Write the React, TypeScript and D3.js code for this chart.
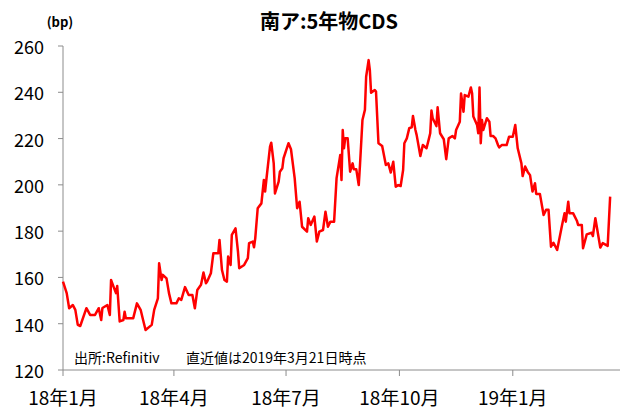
import * as d3 from 'd3'

const dates = [
  '2018-01-01', '2018-01-04', '2018-01-06', '2018-01-09', '2018-01-11', '2018-01-13', '2018-01-15', '2018-01-20',
  '2018-01-23', '2018-01-27', '2018-01-30', '2018-02-01', '2018-02-02', '2018-02-06', '2018-02-08', '2018-02-09',
  '2018-02-11', '2018-02-13', '2018-02-14', '2018-02-16', '2018-02-19', '2018-02-20', '2018-02-21', '2018-02-27',
  '2018-03-02', '2018-03-05', '2018-03-07', '2018-03-09', '2018-03-14', '2018-03-16', '2018-03-19', '2018-03-20',
  '2018-03-22', '2018-03-23', '2018-03-26', '2018-03-28', '2018-03-30', '2018-04-03', '2018-04-05', '2018-04-07',
  '2018-04-10', '2018-04-13', '2018-04-16', '2018-04-18', '2018-04-20', '2018-04-23', '2018-04-25', '2018-04-27',
  '2018-04-28', '2018-05-01', '2018-05-03', '2018-05-07', '2018-05-08', '2018-05-10', '2018-05-12', '2018-05-14',
  '2018-05-15', '2018-05-17', '2018-05-18', '2018-05-21', '2018-05-23', '2018-05-24', '2018-05-28', '2018-05-31',
  '2018-06-01', '2018-06-04', '2018-06-05', '2018-06-06', '2018-06-08', '2018-06-11', '2018-06-13', '2018-06-14',
  '2018-06-15', '2018-06-18', '2018-06-19', '2018-06-21', '2018-06-22', '2018-06-25', '2018-06-26', '2018-06-28',
  '2018-06-29', '2018-07-03', '2018-07-05', '2018-07-08', '2018-07-10', '2018-07-12', '2018-07-14', '2018-07-18',
  '2018-07-19', '2018-07-21', '2018-07-24', '2018-07-26', '2018-07-28', '2018-07-31', '2018-08-02', '2018-08-04',
  '2018-08-06', '2018-08-09', '2018-08-11', '2018-08-14', '2018-08-15', '2018-08-16', '2018-08-17', '2018-08-18',
  '2018-08-20', '2018-08-22', '2018-08-24', '2018-08-25', '2018-08-27', '2018-08-29', '2018-08-30', '2018-09-01',
  '2018-09-03', '2018-09-04', '2018-09-06', '2018-09-07', '2018-09-08', '2018-09-11', '2018-09-12', '2018-09-14',
  '2018-09-17', '2018-09-20', '2018-09-22', '2018-09-24', '2018-09-26', '2018-09-28', '2018-09-30', '2018-10-02',
  '2018-10-04', '2018-10-05', '2018-10-07', '2018-10-09', '2018-10-11', '2018-10-12', '2018-10-14', '2018-10-15',
  '2018-10-18', '2018-10-20', '2018-10-23', '2018-10-25', '2018-10-26', '2018-10-27', '2018-10-28', '2018-10-31',
  '2018-11-01', '2018-11-03', '2018-11-06', '2018-11-08', '2018-11-10', '2018-11-13', '2018-11-15', '2018-11-16',
  '2018-11-19', '2018-11-20', '2018-11-22', '2018-11-23', '2018-11-26', '2018-11-28', '2018-11-29', '2018-11-30',
  '2018-12-03', '2018-12-04', '2018-12-05', '2018-12-06', '2018-12-07', '2018-12-08', '2018-12-09', '2018-12-11',
  '2018-12-13', '2018-12-14', '2018-12-16', '2018-12-18', '2018-12-20', '2018-12-21', '2018-12-23', '2018-12-27',
  '2018-12-29', '2019-01-01', '2019-01-03', '2019-01-05', '2019-01-08', '2019-01-09', '2019-01-11', '2019-01-13',
  '2019-01-15', '2019-01-17', '2019-01-19', '2019-01-20', '2019-01-23', '2019-01-26', '2019-01-28', '2019-01-30',
  '2019-02-01', '2019-02-03', '2019-02-06', '2019-02-10', '2019-02-12', '2019-02-13', '2019-02-15', '2019-02-16',
  '2019-02-19', '2019-02-22', '2019-02-23', '2019-02-26', '2019-02-27', '2019-03-02', '2019-03-06', '2019-03-07',
  '2019-03-09', '2019-03-13', '2019-03-15', '2019-03-19', '2019-03-21'
]

const cds = [
  158.2, 153.2, 146.7, 148.1, 146, 139.5, 139, 146.7,
  143.8, 143.8, 146.7, 141.6, 146.8, 148.1, 143.8, 158.9,
  156, 153.2, 156.3, 141, 141.6, 145.2, 142.4, 142.4,
  148.8, 146, 141.6, 137.3, 139.5, 146, 151, 166.1,
  158.9, 161.1, 159.6, 153.2, 148.8, 148.8, 151, 150.3,
  155.8, 152.4, 152.4, 146.7, 154.6, 156.8, 162.1, 157.5,
  158.2, 161.8, 170.4, 170.4, 176.2, 163.2, 158.9, 158.2,
  169, 165.4, 178.4, 181.2, 171.1, 164, 165.4, 168.3,
  174.8, 175.5, 173, 176.9, 189.9, 192, 202.1, 197.1,
  202.1, 216.5, 218.2, 209.3, 196.3, 201.4, 205.7, 207.2,
  211.5, 218, 215.4, 202.9, 189.9, 192.7, 181.9, 179.8,
  185.6, 182.7, 186.3, 175.5, 179.8, 180.5, 188.4, 181.9,
  184.1, 184.1, 202.9, 212.9, 202.1, 223.7, 215.8, 220.1,
  220.1, 205.7, 209.3, 206.7, 206.7, 199.9, 208.6, 228,
  232.4, 246.7, 253.9, 249.6, 239.8, 241, 240.3, 218,
  216.8, 208.6, 209.3, 205.3, 210, 199.2, 199.9, 199.5,
  206.4, 218, 220.1, 224.5, 224.9, 229.8, 223.7, 221.5,
  212.5, 217.2, 215.8, 220.1, 222.3, 232.1, 228.8, 225.4,
  233.5, 222.3, 219.7, 211.1, 220.1, 221.1, 220.1, 223.7,
  227.3, 239.5, 231.6, 238.8, 238.1, 242.1, 239.5, 229.5,
  225.9, 222.3, 242.1, 218, 228, 223.7, 225.4, 228.8,
  227.3, 221.1, 221.1, 220.1, 217.2, 216.2, 217.2, 217.2,
  220.8, 220.8, 225.9, 215.8, 209.3, 203.8, 207.9, 205.7,
  204.2, 197.1, 200.7, 196.1, 196.1, 187, 189.2, 189.2,
  173.3, 175, 171.9, 182.7, 187.7, 184.1, 192.7, 187.7,
  187.7, 184.5, 182.7, 182.7, 172.6, 178.6, 179.3, 177.9,
  185.6, 172.9, 174.8, 173.6, 194.9
]

const yTicks = [120, 140, 160, 180, 200, 220, 240, 260]
const xTickDates = ['2018-01-01', '2018-04-01', '2018-07-01', '2018-10-01', '2019-01-01']
const xTickLabels = ['18年1月', '18年4月', '18年7月', '18年10月', '19年1月']

const svgWidth = 628
const svgHeight = 418
const margin = { top: 46, right: 8, bottom: 48, left: 63 }
const font = '"Noto Sans CJK JP", "Noto Sans", sans-serif'
const axisColor = '#8c8c8c'

export default function App() {
  const parse = d3.timeParse('%Y-%m-%d')
  const data = dates.map((d, i) => ({ date: parse(d), value: cds[i] }))

  const x = d3.scaleTime()
    .domain([parse('2018-01-01'), parse('2019-03-29')])
    .range([margin.left, svgWidth - margin.right])

  const y = d3.scaleLinear()
    .domain([120, 260])
    .range([svgHeight - margin.bottom, margin.top])

  const line = d3.line()
    .x(d => x(d.date))
    .y(d => y(d.value))

  const y0 = y(120)

  return (
    <svg
      width={svgWidth}
      height={svgHeight}
      style={{ position: 'absolute', left: 0, top: 0, background: '#fff', fontFamily: font }}
    >
      <text x={329} y={29} textAnchor='middle' fontSize={20} fontWeight='bold' fill='#000'>
        南ア:5年物CDS
      </text>
      <text x={60} y={27} textAnchor='middle' fontSize={13} fontWeight='bold' fill='#000'>
        (bp)
      </text>

      {/* y axis */}
      <line x1={margin.left} x2={margin.left} y1={y(260)} y2={y0} stroke={axisColor} />
      {yTicks.map(t => (
        <g key={t}>
          <line x1={margin.left - 5} x2={margin.left} y1={y(t)} y2={y(t)} stroke={axisColor} />
          <text x={44} y={y(t)} textAnchor='end' dominantBaseline='central' fontSize={18} fill='#000'>
            {t}
          </text>
        </g>
      ))}

      {/* x axis */}
      <line x1={margin.left} x2={svgWidth - margin.right} y1={y0} y2={y0} stroke={axisColor} />
      {xTickDates.map((d, i) => (
        <g key={d}>
          <line x1={x(parse(d))} x2={x(parse(d))} y1={y0} y2={y0 + 6} stroke={axisColor} />
          <text x={x(parse(d))} y={y0 + 35} textAnchor='middle' fontSize={19} fill='#000'>
            {xTickLabels[i]}
          </text>
        </g>
      ))}

      <path d={line(data)} fill='none' stroke='#ff0000' strokeWidth={2.5} strokeLinejoin='round' />

      <text x={74} y={363} fontSize={14} fill='#000'>出所:Refinitiv</text>
      <text x={186} y={363} fontSize={14} fill='#000'>直近値は2019年3月21日時点</text>
    </svg>
  )
}
